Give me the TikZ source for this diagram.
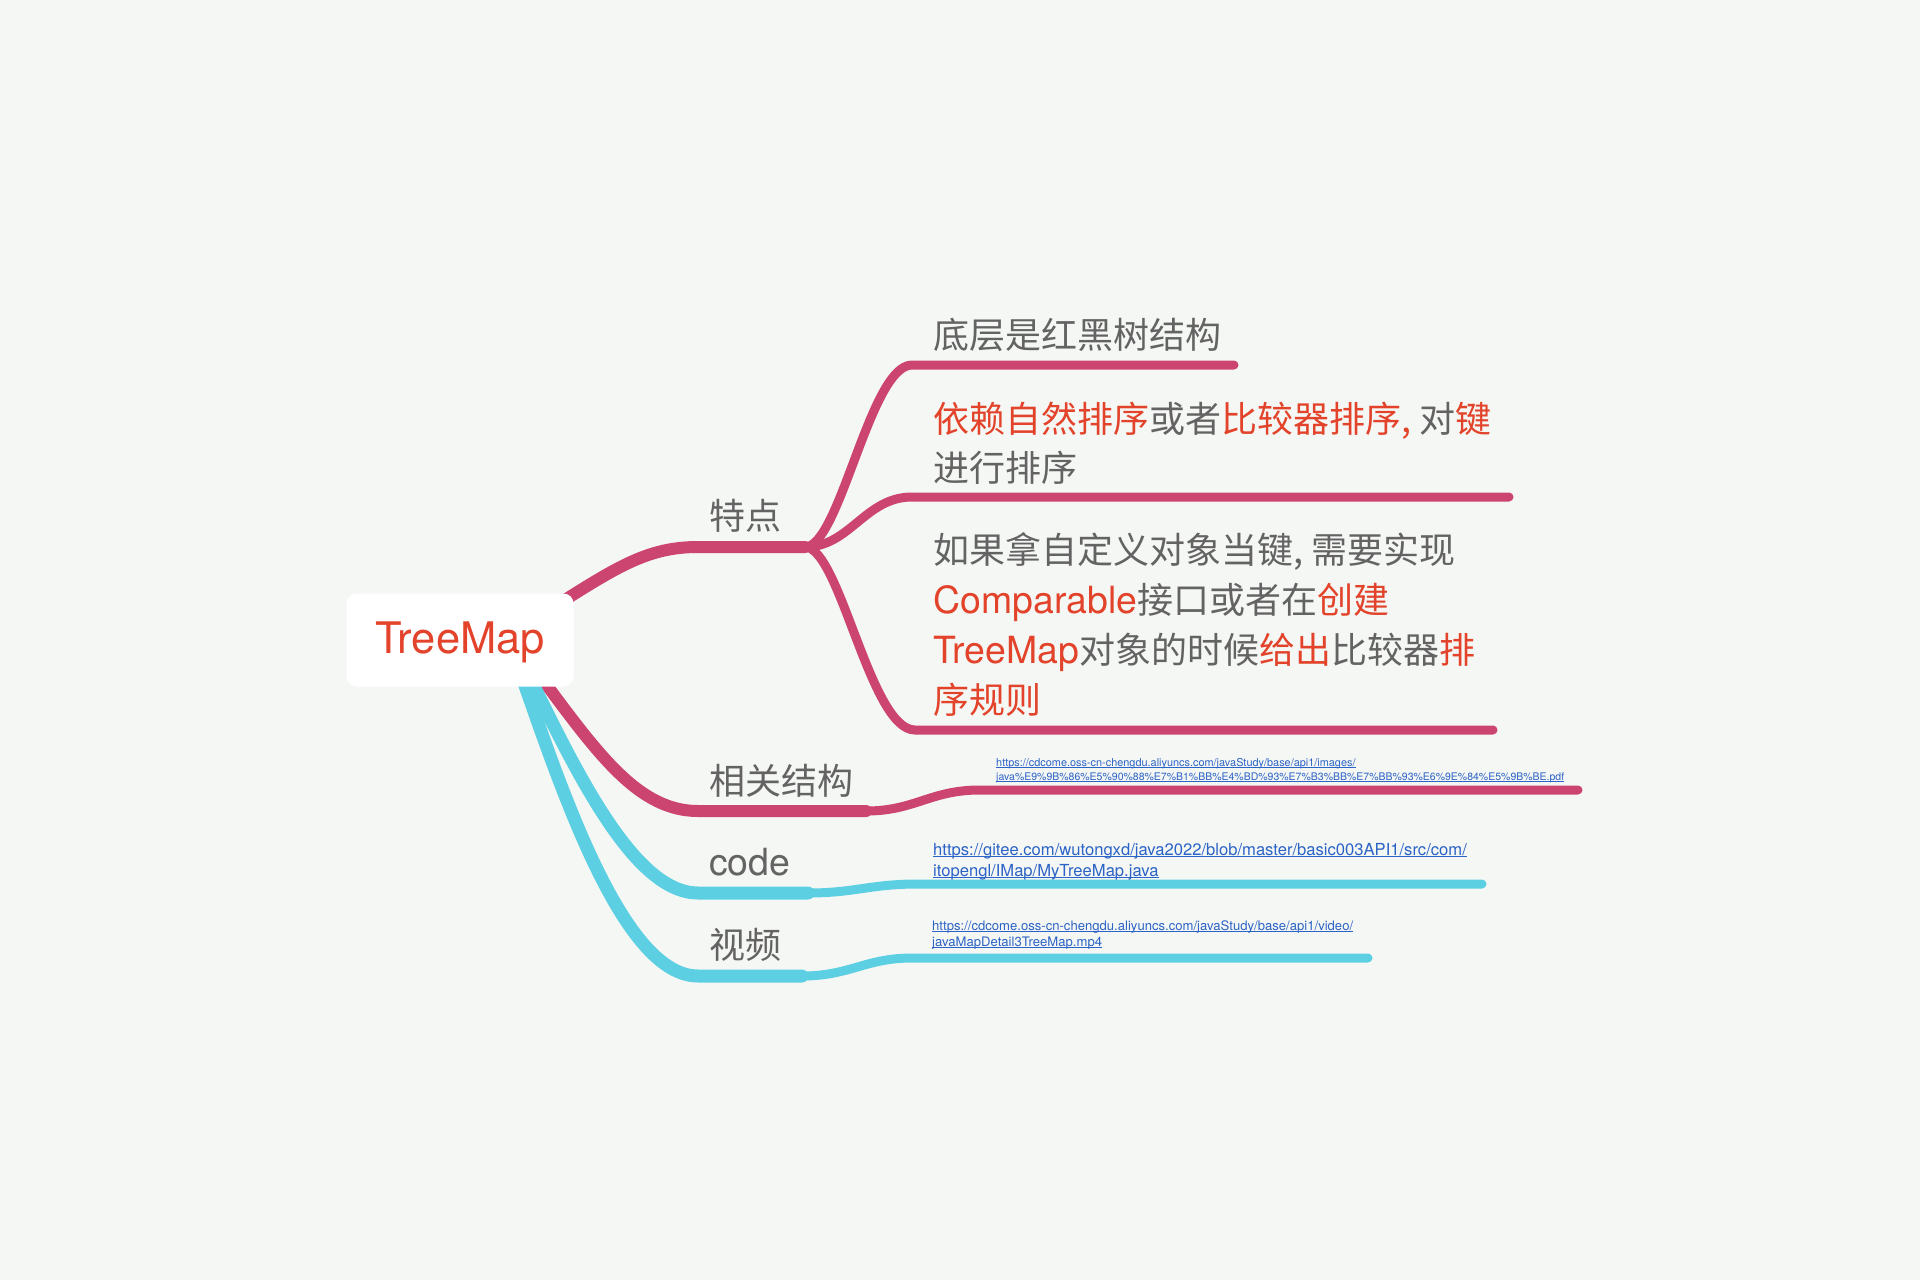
\documentclass[tikz,border=0pt]{standalone}
\usepackage{fontspec}
\setmainfont{TeX Gyre Heros}
\newfontfamily\cjk{Noto Sans CJK SC}
\newfontfamily\lat{TeX Gyre Heros}
\newfontfamily\latw[Scale=1.04]{TeX Gyre Heros}
\definecolor{bgc}{HTML}{F5F7F4}
\definecolor{magc}{HTML}{CC4470}
\definecolor{cyanc}{HTML}{5CD0E2}
\definecolor{grayc}{HTML}{636363}
\definecolor{redc}{HTML}{E2432A}
\definecolor{urlc}{HTML}{2B63C6}
\newcommand\redt[1]{{\color{redc}#1}}
\newcommand\ul[1]{\underline{\smash{#1}}}
\begin{document}
\begin{tikzpicture}[x=1pt,y=-1pt,
  trunk/.style={line width=12pt, line cap=round},
  leaf/.style={line width=9pt, line cap=round},
  mag/.style={draw=magc},
  cy/.style={draw=cyanc},
  rootbox/.style={fill=white, rounded corners=10pt, minimum width=227pt, minimum height=93pt, inner sep=0pt, text=redc, text height=31pt, text depth=4pt, font=\lat\fontsize{43.5}{48}\selectfont},
  lbl/.style={anchor=base west, inner sep=0pt, text=grayc, font=\cjk\fontsize{36}{40}\selectfont},
  urltext/.style={anchor=base west, inner sep=0pt, text=urlc},
]
\fill[bgc] (0,0) rectangle (1920,1280);
\useasboundingbox (0,0) rectangle (1920,1280);

% coordinates
\coordinate (tdL) at (698,547);
\coordinate (tdR) at (805,547);
\coordinate (f1L) at (912,365);
\coordinate (f1R) at (1234,365);
\coordinate (f2L) at (912,497);
\coordinate (f2R) at (1509,497);
\coordinate (f3L) at (915,730);
\coordinate (f3R) at (1493,730);
\coordinate (xgS) at (543,680);
\coordinate (xgL) at (698,811);
\coordinate (xgM) at (866,811);
\coordinate (xgN) at (980,790);
\coordinate (xgR) at (1578,790);
\coordinate (cdS) at (531,680);
\coordinate (cdL) at (698,893);
\coordinate (cdM) at (808,893);
\coordinate (cdN) at (918,884);
\coordinate (cdR) at (1482,884);
\coordinate (vdS) at (523,680);
\coordinate (vdL) at (698,976);
\coordinate (vdM) at (802,976);
\coordinate (vdN) at (912,958);
\coordinate (vdR) at (1368,958);
\coordinate (tdS) at (560,603);

% 特点 branch
\draw[trunk,mag] (tdS) .. controls (620,565) and (650,547) .. (tdL) -- (tdR);
\draw[leaf,mag] (tdR) .. controls (840,547) and (870,365) .. (f1L) -- (f1R);
\draw[leaf,mag] (tdR) .. controls (850,547) and (865,497) .. (f2L) -- (f2R);
\draw[leaf,mag] (tdR) .. controls (840,547) and (870,730) .. (f3L) -- (f3R);
% 相关结构
\draw[trunk,mag] (xgS) .. controls (600,757) and (640,811) .. (xgL) -- (xgM);
\draw[leaf,mag] (xgM) .. controls (915,811) and (930,790) .. (xgN) -- (xgR);
% code
\draw[trunk,cy,line width=13pt] (cdS) .. controls (578,775) and (635,893) .. (cdL) -- (cdM);
\draw[leaf,cy] (cdM) .. controls (855,893) and (870,884) .. (cdN) -- (cdR);
% 视频
\draw[trunk,cy,line width=13pt] (vdS) .. controls (565,800) and (625,976) .. (vdL) -- (vdM);
\draw[leaf,cy] (vdM) .. controls (850,976) and (865,958) .. (vdN) -- (vdR);

% root
\node[rootbox] (root) at (460,640) {TreeMap};

% branch labels
\node[lbl] (td) at (709,529) {特点};
\node[lbl] (xg) at (709,794) {相关结构};
\node[lbl, font=\latw\fontsize{36}{40}\selectfont] (cd) at (709,875) {code};
\node[lbl] (vd) at (709,958) {视频};

% leaves
\node[lbl] (f1) at (933,348) {底层是红黑树结构};
\node[lbl] (f2a) at (933,432) {\redt{依赖自然排序}或者\redt{比较器排序,} 对\redt{键}};
\node[lbl] (f2b) at (933,481) {进行排序};
\node[lbl] (f3a) at (933,563) {如果拿自定义对象当键, 需要实现};
\node[lbl] (f3b) at (933,613) {\redt{\latw Comparable}接口或者在\redt{创建}};
\node[lbl] (f3c) at (933,663) {\redt{\latw TreeMap}对象的时候\redt{给出}比较器\redt{排}};
\node[lbl] (f3d) at (933,713) {\redt{序规则}};

% urls
\node[urltext, font=\lat\fontsize{10.9}{13}\selectfont] (r1) at (996,766) {\ul{https://cdcome.oss-cn-chengdu.aliyuncs.com/javaStudy/base/api1/images/}};
\node[urltext, font=\lat\fontsize{10.5}{13}\selectfont] (r2) at (996,780) {\ul{java\%E9\%9B\%86\%E5\%90\%88\%E7\%B1\%BB\%E4\%BD\%93\%E7\%B3\%BB\%E7\%BB\%93\%E6\%9E\%84\%E5\%9B\%BE.pdf}};
\node[urltext, font=\lat\fontsize{16.6}{20}\selectfont] (c1) at (933,855) {\ul{https://gitee.com/wutongxd/java2022/blob/master/basic003API1/src/com/}};
\node[urltext, font=\lat\fontsize{16.6}{20}\selectfont] (c2) at (933,876) {\ul{itopengl/IMap/MyTreeMap.java}};
\node[urltext, font=\lat\fontsize{13.1}{16}\selectfont] (v1) at (932,930) {\ul{https://cdcome.oss-cn-chengdu.aliyuncs.com/javaStudy/base/api1/video/}};
\node[urltext, font=\lat\fontsize{13.1}{16}\selectfont] (v2) at (932,946) {\ul{javaMapDetail3TreeMap.mp4}};
\end{tikzpicture}
\end{document}
